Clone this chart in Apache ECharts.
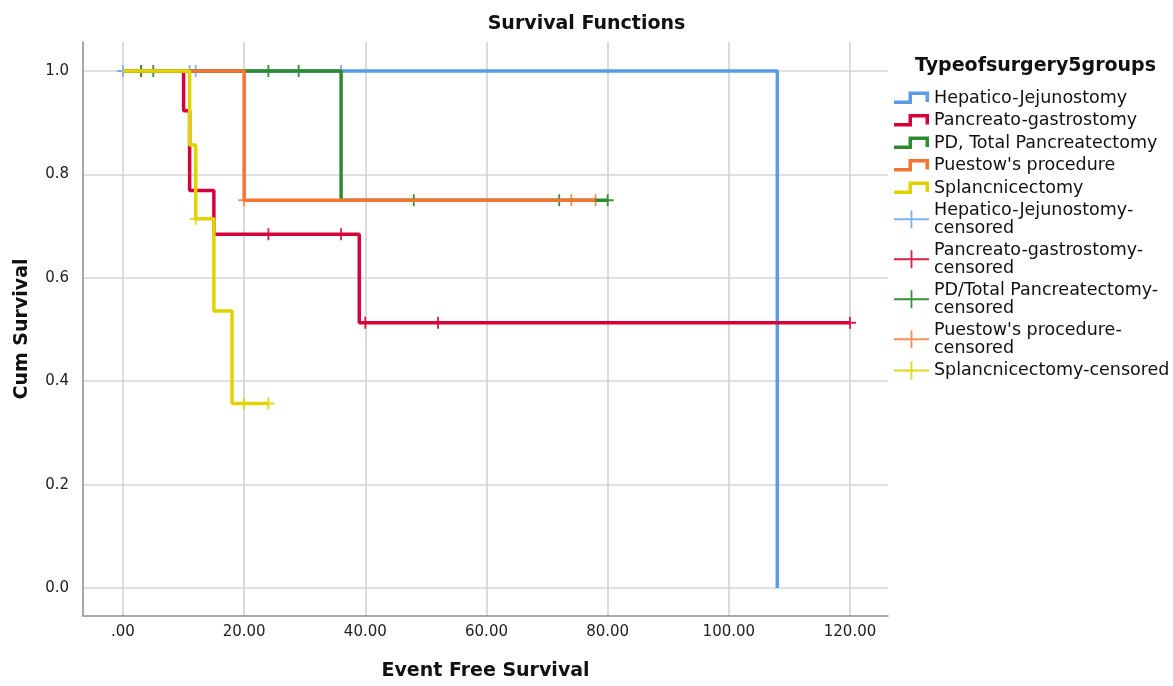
<!DOCTYPE html>
<html>
<head>
<meta charset="utf-8">
<script src="https://cdn.jsdelivr.net/npm/echarts@6/dist/echarts.min.js"></script>
<style>
html, body { margin: 0; padding: 0; background: #fff; }
#chart { width: 1173px; height: 686px; }
</style>
</head>
<body>
<div id="chart"></div>
<script>
var groups = ['Hepatico-Jejunostomy', 'Pancreato-gastrostomy', 'PD, Total Pancreatectomy', "Puestow's procedure", 'Splancnicectomy'];
var censorNames = ['Hepatico-Jejunostomy-censored', 'Pancreato-gastrostomy-censored', 'PD/Total Pancreatectomy-censored', "Puestow's procedure-censored", 'Splancnicectomy-censored'];
var lineColors = ['#5b9be8', '#d6003a', '#2e8a2e', '#f47432', '#e0d300'];
var crossColors = ['#7fb1ee', '#d8204c', '#3a913a', '#f7905a', '#e3d61a'];

// survival steps: event time / cum survival after it
var hjTime = [0, 108];
var hjSurv = [1, 0];
var pgTime = [0, 10, 11, 15, 39, 120];
var pgSurv = [1, 0.923, 0.769, 0.684, 0.513, 0.513];
var pdTime = [0, 36, 80];
var pdSurv = [1, 0.75, 0.75];
var puTime = [0, 20, 78];
var puSurv = [1, 0.75, 0.75];
var spTime = [0, 11, 12, 15, 18, 24];
var spSurv = [1, 0.857, 0.714, 0.536, 0.357, 0.357];

// censored cases
var hjCensTime = [0, 11, 12, 36];
var hjCensSurv = [1, 1, 1, 1];
var pgCensTime = [3, 24, 36, 40, 52, 120];
var pgCensSurv = [1, 0.684, 0.684, 0.513, 0.513, 0.513];
var pdCensTime = [3, 5, 24, 29, 48, 72, 80];
var pdCensSurv = [1, 1, 1, 1, 0.75, 0.75, 0.75];
var puCensTime = [20, 74, 78];
var puCensSurv = [0.75, 0.75, 0.75];
var spCensTime = [12, 20, 24];
var spCensSurv = [0.714, 0.357, 0.357];

var xTicks = [0, 20, 40, 60, 80, 100, 120];
var yTicks = [0, 0.2, 0.4, 0.6, 0.8, 1.0];

function zip(a, b) {
    return a.map(function (v, i) { return [v, b[i]]; });
}

var curves = [zip(hjTime, hjSurv), zip(pgTime, pgSurv), zip(pdTime, pdSurv), zip(puTime, puSurv), zip(spTime, spSurv)];
var censored = [zip(hjCensTime, hjCensSurv), zip(pgCensTime, pgCensSurv), zip(pdCensTime, pdCensSurv), zip(puCensTime, puCensSurv), zip(spCensTime, spCensSurv)];

var stepIcon = 'path://M0,0 L0.01,0 L0,0.01 Z M35,18 L34.99,18 L35,17.99 Z M0,11.5 H14.5 V2.5 H35 V13 H31.5 V6 H18 V15 H0 Z';
var crossIcon = 'path://M0,8.1 H16.6 V0 H18.4 V8.1 H35 V9.9 H18.4 V18 H16.6 V9.9 H0 Z';
var crossSymbol = 'path://M9.3,0 H12.7 V9.3 H22 V12.7 H12.7 V22 H9.3 V12.7 H0 V9.3 H9.3 Z';

var series = [];
curves.forEach(function (d, i) {
    series.push({
        name: groups[i],
        type: 'line',
        step: 'end',
        data: d,
        symbol: 'none',
        showSymbol: false,
        color: lineColors[i],
        lineStyle: { width: 3.5, color: lineColors[i] }
    });
});
censored.forEach(function (d, i) {
    series.push({
        name: censorNames[i],
        type: 'scatter',
        data: d,
        symbol: crossSymbol,
        symbolSize: 12,
        color: crossColors[i],
        itemStyle: { color: crossColors[i], opacity: 1 }
    });
});

var legendData = groups.map(function (g) { return { name: g, icon: stepIcon }; })
    .concat(censorNames.map(function (g) { return { name: g, icon: crossIcon }; }));

var chart = echarts.init(document.getElementById('chart'));
chart.setOption({
    animation: false,
    backgroundColor: '#fff',
    textStyle: { fontFamily: 'DejaVu Sans' },
    title: [
        {
            text: 'Survival Functions',
            left: 'center',
            top: 10,
            textStyle: { fontSize: 19, fontWeight: 'bold', color: '#111', fontFamily: 'DejaVu Sans' }
        },
        {
            text: 'Typeofsurgery5groups',
            left: 910,
            top: 52,
            textStyle: { fontSize: 19, fontWeight: 'bold', color: '#111', fontFamily: 'DejaVu Sans' }
        }
    ],
    legend: {
        orient: 'vertical',
        left: 889,
        top: 84,
        itemWidth: 35,
        itemHeight: 18,
        itemGap: 4.5,
        symbolKeepAspect: false,
        itemStyle: { borderWidth: 0 },
        data: legendData,
        textStyle: { fontSize: 17.5, lineHeight: 17.5, color: '#111', fontFamily: 'DejaVu Sans' },
        formatter: function (name) {
            if (name !== 'Splancnicectomy-censored' && name.indexOf('-censored') > 0) {
                return name.replace('-censored', '-\ncensored');
            }
            return name;
        }
    },
    grid: { left: 83, top: 42, width: 805, height: 575, containLabel: false },
    xAxis: {
        type: 'value',
        min: -6.6,
        max: 126.27,
        splitNumber: 7,
        minInterval: xTicks[1] - xTicks[0],
        maxInterval: xTicks[1] - xTicks[0],
        name: 'Event Free Survival',
        nameLocation: 'middle',
        nameGap: 46,
        nameTextStyle: { fontSize: 19, fontWeight: 'bold', color: '#111', fontFamily: 'DejaVu Sans' },
        axisLine: { show: true, onZero: false, lineStyle: { color: '#8c8c8c', width: 1.5 } },
        axisTick: { show: false },
        axisLabel: {
            showMinLabel: false,
            showMaxLabel: false,
            margin: 9,
            fontSize: 15,
            color: '#222',
            formatter: function (v) { return v === 0 ? '.00' : v.toFixed(2); }
        },
        splitLine: { show: true, showMinLine: false, showMaxLine: false, lineStyle: { color: '#cfcfcf', width: 1.5 } }
    },
    yAxis: {
        type: 'value',
        min: -0.054,
        max: 1.056,
        splitNumber: 5,
        minInterval: yTicks[1] - yTicks[0],
        maxInterval: yTicks[1] - yTicks[0],
        name: 'Cum Survival',
        nameLocation: 'middle',
        nameGap: 51,
        nameTextStyle: { fontSize: 19, fontWeight: 'bold', color: '#111', fontFamily: 'DejaVu Sans' },
        axisLine: { show: true, onZero: false, lineStyle: { color: '#8c8c8c', width: 1.5 } },
        axisTick: { show: false },
        axisLabel: {
            showMinLabel: false,
            showMaxLabel: false,
            margin: 14,
            fontSize: 15,
            color: '#222',
            formatter: function (v) { return v.toFixed(1); }
        },
        splitLine: { show: true, showMinLine: false, showMaxLine: false, lineStyle: { color: '#d6d6d6', width: 1.5 } }
    },
    series: series
});
</script>
</body>
</html>
